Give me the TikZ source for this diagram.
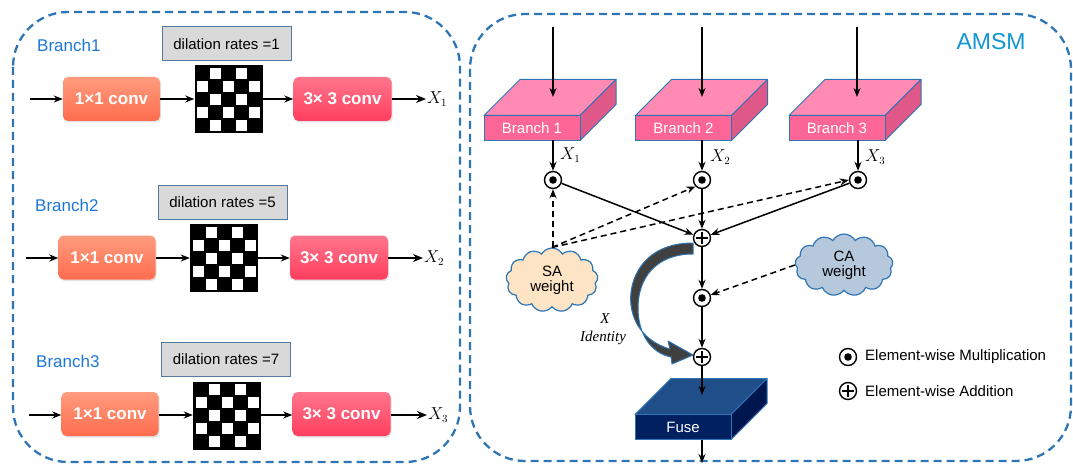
\documentclass[tikz,border=0pt]{standalone}
\usepackage{fontspec}
\setmainfont{Liberation Sans}
\newfontfamily\serifface{Liberation Serif}
\usetikzlibrary{arrows.meta,shapes.symbols,shadows}

\definecolor{frameblue}{RGB}{46,117,182}
\definecolor{labelblue}{RGB}{28,118,218}
\definecolor{titleblue}{RGB}{16,150,212}
\definecolor{dilfill}{RGB}{217,217,217}
\definecolor{dilline}{RGB}{84,122,160}
\definecolor{convAtop}{RGB}{255,156,126}
\definecolor{convAbot}{RGB}{255,108,78}
\definecolor{convBtop}{RGB}{255,118,140}
\definecolor{convBbot}{RGB}{255,62,94}
\definecolor{slabfront}{RGB}{255,102,152}
\definecolor{slabtop}{RGB}{255,138,180}
\definecolor{slabside}{RGB}{224,88,136}
\definecolor{fusefront}{RGB}{0,32,96}
\definecolor{fusetop}{RGB}{31,78,137}
\definecolor{fuseside}{RGB}{0,22,78}
\definecolor{safill}{RGB}{252,228,196}
\definecolor{cafill}{RGB}{182,200,220}
\definecolor{bigarrow}{RGB}{64,64,64}

\newcommand\fsz[1]{\fontsize{#1}{#1}\selectfont}

% a 3D slab: front face is the named node, top and side faces drawn behind it
\newcommand\slab[7]{%
  \filldraw[fill=#4, draw=frameblue, line width=1pt, line join=round]
    ([xshift=-48pt,yshift=#7]#2) -- ++(36,-36) -- ++(96,0) -- ([xshift=48pt,yshift=#7]#2) -- cycle;
  \filldraw[fill=#5, draw=frameblue, line width=1pt, line join=round]
    ([xshift=48pt,yshift=#7]#2) -- ++(36,-36) -- ++(0,25) -- ([xshift=48pt,yshift=-#7]#2) -- cycle;
  \node[slabbox, fill=#3] (#1) at (#2) {#6};
}

\begin{document}
\begin{tikzpicture}[x=1pt,y=-1pt,
  dashframe/.style={draw=frameblue, line width=2.3pt, dash pattern=on 8pt off 5pt, rounded corners=55pt},
  branchlbl/.style={text=labelblue, font=\fsz{17}, anchor=west, inner sep=0},
  dilbox/.style={draw=dilline, fill=dilfill, line width=1pt, minimum width=129pt, minimum height=34pt, inner sep=0, font=\fsz{15}},
  convA/.style={rounded corners=5pt, top color=convAtop, bottom color=convAbot, minimum width=97pt, minimum height=44pt, inner sep=0, text=white, font=\fsz{17}\bfseries, drop shadow={opacity=0.22, shadow xshift=1pt, shadow yshift=-1.5pt}},
  convB/.style={convA, top color=convBtop, bottom color=convBbot, minimum width=98pt},
  checker/.style={fill=black, minimum size=68pt, inner sep=0, path picture={
      \foreach \i in {0,...,4}{\foreach \j in {0,...,4}{
        \ifodd\numexpr\i+\j\relax
          \fill[white] ([xshift=\j*13pt-31.5pt, yshift=-\i*13pt+31.5pt]path picture bounding box.center) rectangle ++(11,11);
        \fi}}}},
  xlab/.style={anchor=west, inner sep=1pt, font=\fsz{16}},
  flow/.style={-{Stealth[length=9pt,width=7pt]}, line width=1.5pt},
  flowb/.style={-{Stealth[length=10pt,width=8pt]}, line width=2.2pt},
  dflow/.style={flow, dash pattern=on 6pt off 4pt},
  slabbox/.style={draw=frameblue, line width=1pt, minimum width=96pt, minimum height=25pt, inner sep=0, outer sep=0, text=white, font=\fsz{15}},
  odot/.style={circle, draw, line width=1.4pt, fill=white, minimum size=17pt, inner sep=0,
      path picture={\fill[black] (path picture bounding box.center) circle (3.8pt);}},
  oplus/.style={circle, draw, line width=1.4pt, fill=white, minimum size=17pt, inner sep=0,
      path picture={\draw[black, line width=1.4pt]
        ([xshift=-6pt]path picture bounding box.center) -- ([xshift=6pt]path picture bounding box.center)
        ([yshift=-6pt]path picture bounding box.center) -- ([yshift=6pt]path picture bounding box.center);}},
  weight/.style={cloud, cloud puffs=13, cloud puff arc=120, cloud ignores aspect, draw=frameblue, line width=1.2pt, inner sep=0pt, align=center, font=\fsz{15}},
  legend/.style={anchor=west, inner sep=0, font=\fsz{15}}
]
\useasboundingbox (0,0) rectangle (1073,468);

% ---------------- left panel: three dilated branches ----------------
\draw[dashframe] (13,12) rectangle (460,462);

% Branch 1
\node[branchlbl] (br1) at (37,45) {Branch1};
\node[dilbox] (d1) at (226.5,44) {dilation rates =1};
\coordinate (s1) at (30,99);
\node[convA] (a1) at (111.5,99) {1×1 conv};
\node[checker] (k1) at (228.5,99.5) {};
\node[convB] (c1) at (342.5,99) {3× 3 conv};
\node[xlab] (x1) at (426,99) {$X_1$};
\draw[flow] (s1) -- (a1);
\draw[flow] (a1) -- (k1.west |- a1);
\draw[flow] (k1.east |- c1) -- (c1);
\draw[flowb] (c1) -- (x1);

% Branch 2
\node[branchlbl] (br2) at (35,205) {Branch2};
\node[dilbox] (d2) at (222.5,202.5) {dilation rates =5};
\coordinate (s2) at (26,258);
\node[convA] (a2) at (107,257.5) {1×1 conv};
\node[checker] (k2) at (224,258) {};
\node[convB] (c2) at (339,257.5) {3× 3 conv};
\node[xlab] (x2) at (423,258) {$X_2$};
\draw[flow] (s2) -- (a2.west |- s2);
\draw[flow] (a2.east |- s2) -- (k2.west |- s2);
\draw[flow] (k2.east |- s2) -- (c2.west |- s2);
\draw[flowb] (c2.east |- s2) -- (x2);

% Branch 3
\node[branchlbl] (br3) at (36,361) {Branch3};
\node[dilbox] (d3) at (226,359.5) {dilation rates =7};
\coordinate (s3) at (29,415);
\node[convA] (a3) at (110,414) {1×1 conv};
\node[checker] (k3) at (227,415.5) {};
\node[convB] (c3) at (341.5,414) {3× 3 conv};
\node[xlab] (x3) at (427,415) {$X_3$};
\draw[flow] (s3) -- (a3.west |- s3);
\draw[flow] (a3.east |- s3) -- (k3.west |- s3);
\draw[flow] (k3.east |- s3) -- (c3.west |- s3);
\draw[flowb] (c3.east |- s3) -- (x3);

% ---------------- right panel: AMSM ----------------
\draw[dashframe] (470,14) rectangle (1071,461);
\node[text=titleblue, font=\fsz{23}, inner sep=0] (amsm) at (991,42) {AMSM};

\slab{b1}{532,128}{slabfront}{slabtop}{slabside}{Branch 1}{12.5pt}
\slab{b2}{683.5,128}{slabfront}{slabtop}{slabside}{Branch 2}{12.5pt}
\slab{b3}{837,128}{slabfront}{slabtop}{slabside}{Branch 3}{12.5pt}

% inputs from the left panel
\coordinate (i1) at (553,27);  \coordinate (t1) at (553,97);
\coordinate (i2) at (702,27);  \coordinate (t2) at (702,97);
\coordinate (i3) at (857,27);  \coordinate (t3) at (857,97);
\draw[flow] (i1) -- (t1);
\draw[flow] (i2) -- (t2);
\draw[flow] (i3) -- (t3);

% operators
\node[odot] (m1) at (553,180) {};
\node[odot] (m2) at (702,180) {};
\node[odot] (m3) at (858,180) {};
\node[oplus] (p1) at (702,238) {};
\node[odot] (m4) at (702,298) {};
\node[oplus] (p2) at (702,357) {};

\draw[flow] (b1.south -| m1) -- (m1);
\draw[flow] (b2.south -| m2) -- (m2);
\draw[flow] (b3.south -| m3) -- (m3);
\node[xlab] (l1) at (559,155) {$X_1$};
\node[xlab] (l2) at (709,157) {$X_2$};
\node[xlab] (l3) at (864,157) {$X_3$};

\draw[flow] (m1) -- (p1);
\draw[flow] (m2) -- (p1);
\draw[flow] (m3) -- (p1);
\draw[flow] (p1) -- (m4);
\draw[flow] (m4) -- (p2);

% attention weights
\node[weight, fill=safill, minimum width=92pt, minimum height=64pt] (sa) at (552,280) {SA\\weight};
\node[weight, fill=cafill, minimum width=98pt, minimum height=62pt] (ca) at (844,265) {CA\\weight};
\draw[dflow] (sa.north -| m1) -- (m1);
\draw[dflow] (sa.north) -- (m2.south west);
\draw[dflow] (sa.north) -- (m3.west);
\draw[dflow] (ca.west) -- (m4);

% identity shortcut
\fill[bigarrow, draw=frameblue, line width=1pt, line join=round]
  (693,243) .. controls (643,243) and (628,280) .. (631,305)
  .. controls (634,330) and (652,344) .. (670,349)
  -- (668,341) -- (693,355) -- (672,364) -- (671,357)
  .. controls (651,353) and (638,334) .. (638,308)
  .. controls (638,278) and (656,254) .. (693,254) -- cycle;
\node[font=\fsz{15}\serifface\itshape, inner sep=0] (xid) at (605,319) {X};
\node[font=\fsz{15}\serifface\itshape, inner sep=0] (idt) at (603,338) {Identity};

% fusion
\slab{fuse}{683,427}{fusefront}{fusetop}{fuseside}{Fuse}{12.5pt}
\coordinate (ft) at (702,395);
\coordinate (out) at (702,463);
\draw[flow] (p2) -- (ft);
\draw[flow] (fuse.south -| p2) -- (out);

% legend
\node[odot] (lm) at (848,357) {};
\node[legend] (lmt) at (865,357) {Element-wise Multiplication};
\node[oplus] (la) at (848,391) {};
\node[legend] (lat) at (865,391) {Element-wise Addition};
\end{tikzpicture}
\end{document}
